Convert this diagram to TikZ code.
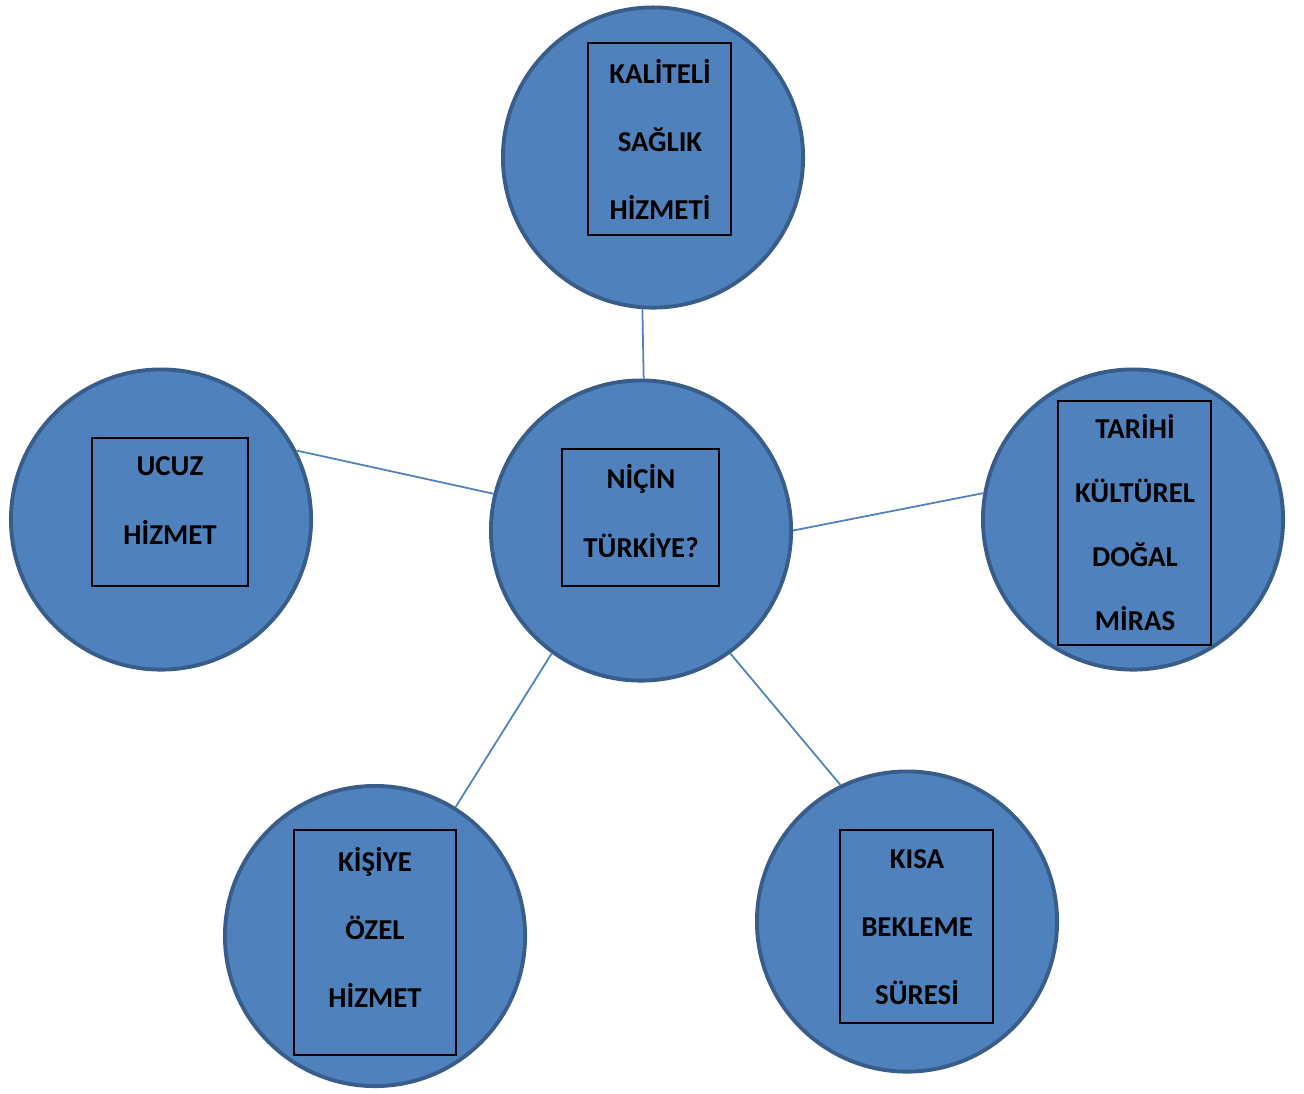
\documentclass[tikz,border=0pt]{standalone}
\usepackage{fontspec}
\setmainfont{Carlito}
\definecolor{maviDolgu}{HTML}{4F81BD}
\definecolor{maviKenar}{HTML}{385D8A}
\begin{document}
\begin{tikzpicture}[x=0.01cm,y=-0.01cm,
  daire/.style={circle,draw=maviKenar,fill=maviDolgu,line width=1.1pt,minimum size=3.0cm,inner sep=0pt},
  kutu/.style={draw=black,line width=0.45pt,inner sep=0pt},
  yazi/.style={font=\bfseries\fontsize{8.2}{19.35}\selectfont,align=center},
  bag/.style={draw=maviDolgu,line width=0.5pt}]

\useasboundingbox (0,0) rectangle (1304,1093);

% daireler
\node[daire] (ust) at (653,157.5) {};
\node[daire] (orta) at (641,530.5) {};
\node[daire] (sol) at (161,519.5) {};
\node[daire] (sag) at (1133,519.5) {};
\node[daire] (solalt) at (375,936) {};
\node[daire] (sagalt) at (907,921.5) {};

% baglantilar
\draw[bag] (orta.89) -- (ust.266);
\draw[bag] (orta.166) -- (sol.27);
\draw[bag] (orta.0) -- (sag.170);
\draw[bag] (orta.234) -- (solalt.58);
\draw[bag] (orta.306) -- (sagalt.116);

% kutular
\node[kutu,minimum width=1.43cm,minimum height=1.92cm] (ustkutu) at (659.5,139) {};
\node[kutu,minimum width=1.57cm,minimum height=1.37cm] (ortakutu) at (640.5,517.5) {};
\node[kutu,minimum width=1.56cm,minimum height=1.48cm] (solkutu) at (170,512) {};
\node[kutu,minimum width=1.53cm,minimum height=2.44cm] (sagkutu) at (1134.5,523) {};
\node[kutu,minimum width=1.62cm,minimum height=2.25cm] (solaltkutu) at (375,942.5) {};
\node[kutu,minimum width=1.53cm,minimum height=1.93cm] (sagaltkutu) at (916.5,926.5) {};

% yazilar
\node[yazi] (ustyazi) at (660,139) {KALİTELİ\\SAĞLIK\\HİZMETİ};
\node[yazi] (ortayazi) at (641,511) {NİÇİN\\TÜRKİYE?};
\node[yazi] (solyazi) at (170,500.5) {UCUZ\\HİZMET};
\node[yazi,font=\bfseries\fontsize{8.2}{18.2}\selectfont] (sagyazi) at (1135,523) {TARİHİ\\KÜLTÜREL\\DOĞAL\\MİRAS};
\node[yazi] (solaltyazi) at (375,927) {KİŞİYE\\ÖZEL\\HİZMET};
\node[yazi] (sagaltyazi) at (917,927) {KISA\\BEKLEME\\SÜRESİ};

\end{tikzpicture}
\end{document}
